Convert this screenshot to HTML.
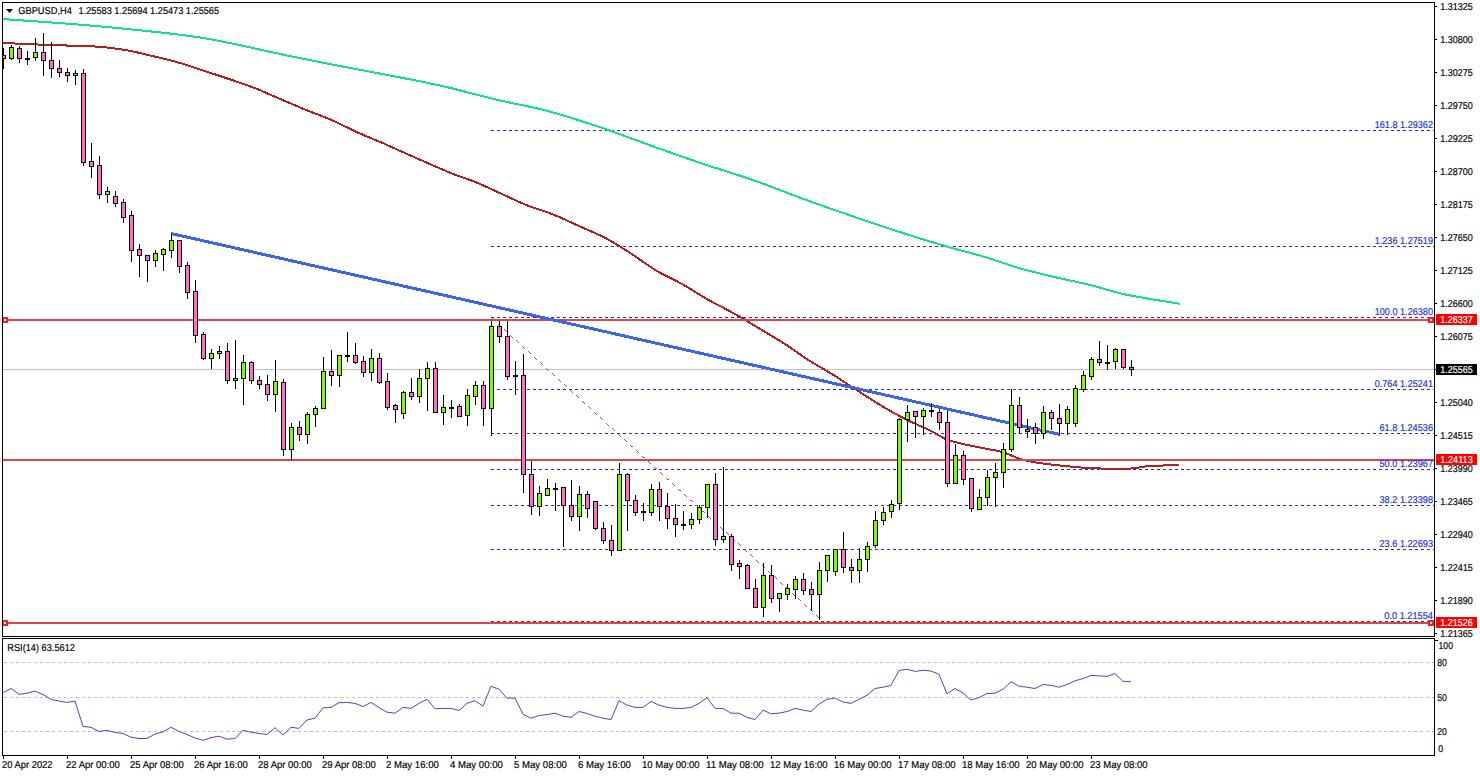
<!DOCTYPE html><html><head><meta charset="utf-8"><style>html,body{margin:0;padding:0;background:#fff;width:1480px;height:776px;overflow:hidden}svg{display:block}text{font-family:"Liberation Sans", sans-serif;font-size:10px;text-rendering:geometricPrecision;stroke:currentColor;stroke-width:0.18px}</style></head><body>
<svg width="1480" height="776" viewBox="0 0 1480 776">
<rect x="0" y="0" width="1480" height="776" fill="#fff"/>
<defs><clipPath id="main"><rect x="3" y="3" width="1431" height="633"/></clipPath><clipPath id="rsiw"><rect x="3" y="639" width="1431" height="116"/></clipPath></defs>
<g clip-path="url(#main)">
<rect x="3" y="369" width="1431" height="1" fill="#c0c0c0"/>
<line x1="491" y1="130.5" x2="1434" y2="130.5" stroke="#2b2bb8" stroke-width="1" stroke-dasharray="3 3"/>
<line x1="491" y1="246.5" x2="1434" y2="246.5" stroke="#2b2bb8" stroke-width="1" stroke-dasharray="3 3"/>
<line x1="491" y1="317.5" x2="1434" y2="317.5" stroke="#2b2bb8" stroke-width="1" stroke-dasharray="3 3"/>
<line x1="491" y1="389.5" x2="1434" y2="389.5" stroke="#2b2bb8" stroke-width="1" stroke-dasharray="3 3"/>
<line x1="491" y1="433.5" x2="1434" y2="433.5" stroke="#2b2bb8" stroke-width="1" stroke-dasharray="3 3"/>
<line x1="491" y1="469.5" x2="1434" y2="469.5" stroke="#2b2bb8" stroke-width="1" stroke-dasharray="3 3"/>
<line x1="491" y1="505.5" x2="1434" y2="505.5" stroke="#2b2bb8" stroke-width="1" stroke-dasharray="3 3"/>
<line x1="491" y1="549.5" x2="1434" y2="549.5" stroke="#2b2bb8" stroke-width="1" stroke-dasharray="3 3"/>
<line x1="491" y1="621.5" x2="1434" y2="621.5" stroke="#2b2bb8" stroke-width="1" stroke-dasharray="3 3"/>
<path d="M492,318h1v1h-1zM493,319h1v1h-1zM494,320h1v1h-1zM498,324h1v1h-1zM499,325h1v1h-1zM500,326h1v1h-1zM504,329h1v1h-1zM505,330h1v1h-1zM506,331h1v1h-1zM510,335h1v1h-1zM511,336h1v1h-1zM512,337h1v1h-1zM516,340h1v1h-1zM517,341h1v1h-1zM518,342h1v1h-1zM522,346h1v1h-1zM523,347h1v1h-1zM524,348h1v1h-1zM528,351h1v1h-1zM529,352h1v1h-1zM530,353h1v1h-1zM534,357h1v1h-1zM535,358h1v1h-1zM536,359h1v1h-1zM540,362h1v1h-1zM541,363h1v1h-1zM542,364h1v1h-1zM546,368h1v1h-1zM547,369h1v1h-1zM548,370h1v1h-1zM552,373h1v1h-1zM553,374h1v1h-1zM554,375h1v1h-1zM558,379h1v1h-1zM559,380h1v1h-1zM560,381h1v1h-1zM564,384h1v1h-1zM565,385h1v1h-1zM566,386h1v1h-1zM570,390h1v1h-1zM571,391h1v1h-1zM572,392h1v1h-1zM576,395h1v1h-1zM577,396h1v1h-1zM578,397h1v1h-1zM582,401h1v1h-1zM583,402h1v1h-1zM584,403h1v1h-1zM588,406h1v1h-1zM589,407h1v1h-1zM590,408h1v1h-1zM594,412h1v1h-1zM595,413h1v1h-1zM596,414h1v1h-1zM600,417h1v1h-1zM601,418h1v1h-1zM602,419h1v1h-1zM606,423h1v1h-1zM607,424h1v1h-1zM608,425h1v1h-1zM612,428h1v1h-1zM613,429h1v1h-1zM614,430h1v1h-1zM618,434h1v1h-1zM619,435h1v1h-1zM620,436h1v1h-1zM624,439h1v1h-1zM625,440h1v1h-1zM626,441h1v1h-1zM630,445h1v1h-1zM631,446h1v1h-1zM632,446h1v1h-1zM636,450h1v1h-1zM637,451h1v1h-1zM638,452h1v1h-1zM642,456h1v1h-1zM643,457h1v1h-1zM644,457h1v1h-1zM648,461h1v1h-1zM649,462h1v1h-1zM650,463h1v1h-1zM654,467h1v1h-1zM655,468h1v1h-1zM656,468h1v1h-1zM660,472h1v1h-1zM661,473h1v1h-1zM662,474h1v1h-1zM666,478h1v1h-1zM667,479h1v1h-1zM668,479h1v1h-1zM672,483h1v1h-1zM673,484h1v1h-1zM674,485h1v1h-1zM678,489h1v1h-1zM679,490h1v1h-1zM680,490h1v1h-1zM684,494h1v1h-1zM685,495h1v1h-1zM686,496h1v1h-1zM690,500h1v1h-1zM691,500h1v1h-1zM692,501h1v1h-1zM696,505h1v1h-1zM697,506h1v1h-1zM698,507h1v1h-1zM702,511h1v1h-1zM703,511h1v1h-1zM704,512h1v1h-1zM708,516h1v1h-1zM709,517h1v1h-1zM710,518h1v1h-1zM714,522h1v1h-1zM715,522h1v1h-1zM716,523h1v1h-1zM720,527h1v1h-1zM721,528h1v1h-1zM722,529h1v1h-1zM726,532h1v1h-1zM727,533h1v1h-1zM728,534h1v1h-1zM732,538h1v1h-1zM733,539h1v1h-1zM734,540h1v1h-1zM738,543h1v1h-1zM739,544h1v1h-1zM740,545h1v1h-1zM744,549h1v1h-1zM745,550h1v1h-1zM746,551h1v1h-1zM750,554h1v1h-1zM751,555h1v1h-1zM752,556h1v1h-1zM756,560h1v1h-1zM757,561h1v1h-1zM758,562h1v1h-1zM762,565h1v1h-1zM763,566h1v1h-1zM764,567h1v1h-1zM768,571h1v1h-1zM769,572h1v1h-1zM770,573h1v1h-1zM774,576h1v1h-1zM775,577h1v1h-1zM776,578h1v1h-1zM780,582h1v1h-1zM781,583h1v1h-1zM782,584h1v1h-1zM786,587h1v1h-1zM787,588h1v1h-1zM788,589h1v1h-1zM792,593h1v1h-1zM793,594h1v1h-1zM794,595h1v1h-1zM798,598h1v1h-1zM799,599h1v1h-1zM800,600h1v1h-1zM804,604h1v1h-1zM805,605h1v1h-1zM806,606h1v1h-1zM810,609h1v1h-1zM811,610h1v1h-1zM812,611h1v1h-1zM816,615h1v1h-1zM817,616h1v1h-1zM818,617h1v1h-1z" fill="#d04545" shape-rendering="crispEdges"/>
<path d="M2,19 C18.33,20.23 67.00,23.32 100,26.4 C133.00,29.48 170.00,32.90 200,37.5 C230.00,42.10 257.67,49.43 280,54 C302.33,58.57 316.00,61.38 334,64.9 C352.00,68.42 370.00,71.58 388,75.1 C406.00,78.62 424.00,81.93 442,86 C460.00,90.07 478.00,95.23 496,99.5 C514.00,103.77 532.00,106.75 550,111.6 C568.00,116.45 587.08,122.90 604,128.6 C620.92,134.30 635.00,139.93 651.5,145.8 C668.00,151.67 685.82,158.00 703,163.8 C720.18,169.60 737.43,174.58 754.6,180.6 C771.77,186.62 788.82,193.67 806,199.9 C823.18,206.13 845.37,213.73 857.7,218 C870.03,222.27 870.43,222.35 880,225.5 C889.57,228.65 903.38,233.23 915.1,236.9 C926.82,240.57 938.58,244.13 950.3,247.5 C962.02,250.87 973.68,253.60 985.4,257.1 C997.12,260.60 1008.88,265.13 1020.6,268.5 C1032.32,271.87 1043.98,274.52 1055.7,277.3 C1067.42,280.08 1079.18,282.32 1090.9,285.2 C1102.62,288.08 1111.20,291.50 1126,294.6 C1140.80,297.70 1170.75,302.27 1179.7,303.8" fill="none" stroke="#10e480" stroke-width="2" shape-rendering="crispEdges"/>
<path d="M2,42.9 C6.67,43.12 20.33,43.80 30,44.2 C39.67,44.60 48.33,44.87 60,45.3 C71.67,45.73 89.03,46.00 100,46.8 C110.97,47.60 117.22,48.60 125.8,50.1 C134.38,51.60 142.92,53.78 151.5,55.8 C160.08,57.82 168.70,59.75 177.3,62.2 C185.90,64.65 194.50,67.70 203.1,70.5 C211.70,73.30 220.32,76.08 228.9,79 C237.48,81.92 246.02,84.65 254.6,88 C263.18,91.35 271.80,95.43 280.4,99.1 C289.00,102.77 297.60,106.48 306.2,110 C314.80,113.52 323.42,116.45 332,120.2 C340.58,123.95 349.12,128.63 357.7,132.5 C366.28,136.37 374.90,139.65 383.5,143.4 C392.10,147.15 398.22,150.12 409.3,155 C420.38,159.88 438.92,168.17 450,172.7 C461.08,177.23 467.22,178.68 475.8,182.2 C484.38,185.72 492.92,189.93 501.5,193.8 C510.08,197.67 518.72,201.97 527.3,205.4 C535.88,208.83 544.40,210.97 553,214.4 C561.60,217.83 570.30,222.13 578.9,226 C587.50,229.87 596.02,233.08 604.6,237.6 C613.18,242.12 621.80,247.60 630.4,253.1 C639.00,258.60 647.60,265.45 656.2,270.6 C664.80,275.75 673.42,279.18 682,284 C690.58,288.82 699.12,294.63 707.7,299.5 C716.28,304.37 724.90,308.37 733.5,313.2 C742.10,318.03 750.72,323.37 759.3,328.5 C767.88,333.63 777.00,338.87 785,344 C793.00,349.13 799.30,354.18 807.3,359.3 C815.30,364.42 824.40,369.33 833,374.7 C841.60,380.07 850.30,386.00 858.9,391.5 C867.50,397.00 876.58,402.98 884.6,407.7 C892.62,412.42 899.27,415.92 907,419.8 C914.73,423.68 924.33,427.70 931,431 C937.67,434.30 941.83,437.47 947,439.6 C952.17,441.73 955.22,442.23 962,443.8 C968.78,445.37 980.87,447.60 987.7,449 C994.53,450.40 997.62,450.55 1003,452.2 C1008.38,453.85 1014.53,457.18 1020,458.9 C1025.47,460.62 1029.13,461.40 1035.8,462.5 C1042.47,463.60 1050.67,464.55 1060,465.5 C1069.33,466.45 1080.22,467.68 1091.8,468.2 C1103.38,468.72 1120.18,468.93 1129.5,468.6 C1138.82,468.27 1139.38,466.80 1147.7,466.2 C1156.02,465.60 1174.12,465.20 1179.4,465" fill="none" stroke="#b02020" stroke-width="2" shape-rendering="crispEdges"/>
<rect x="3" y="319" width="1431" height="2" fill="#dc4646"/>
<rect x="3" y="459" width="1431" height="2" fill="#dc4646"/>
<rect x="3" y="622" width="1431" height="2" fill="#dc4646"/>
<line x1="171" y1="233.5" x2="1060" y2="434.5" stroke="#3d64e6" stroke-width="3" shape-rendering="crispEdges"/>
<g shape-rendering="crispEdges">
<rect x="3" y="48" width="1" height="21" fill="#000"/>
<rect x="1" y="55" width="5" height="4" fill="#000"/>
<rect x="2" y="56" width="3" height="2" fill="#ff6ec4"/>
<rect x="11" y="45" width="1" height="15" fill="#000"/>
<rect x="9" y="47" width="5" height="12" fill="#000"/>
<rect x="10" y="48" width="3" height="10" fill="#7cfc00"/>
<rect x="19" y="46" width="1" height="17" fill="#000"/>
<rect x="17" y="48" width="5" height="11" fill="#000"/>
<rect x="18" y="49" width="3" height="9" fill="#ff6ec4"/>
<rect x="27" y="51" width="1" height="14" fill="#000"/>
<rect x="25" y="58" width="5" height="2" fill="#000"/>
<rect x="35" y="38" width="1" height="23" fill="#000"/>
<rect x="33" y="52" width="5" height="6" fill="#000"/>
<rect x="34" y="53" width="3" height="4" fill="#7cfc00"/>
<rect x="43" y="33" width="1" height="43" fill="#000"/>
<rect x="41" y="52" width="5" height="9" fill="#000"/>
<rect x="42" y="53" width="3" height="7" fill="#ff6ec4"/>
<rect x="51" y="42" width="1" height="36" fill="#000"/>
<rect x="49" y="60" width="5" height="9" fill="#000"/>
<rect x="50" y="61" width="3" height="7" fill="#ff6ec4"/>
<rect x="59" y="60" width="1" height="17" fill="#000"/>
<rect x="57" y="68" width="5" height="5" fill="#000"/>
<rect x="58" y="69" width="3" height="3" fill="#ff6ec4"/>
<rect x="67" y="68" width="1" height="14" fill="#000"/>
<rect x="65" y="72" width="5" height="4" fill="#000"/>
<rect x="66" y="73" width="3" height="2" fill="#ff6ec4"/>
<rect x="75" y="70" width="1" height="15" fill="#000"/>
<rect x="73" y="73" width="5" height="3" fill="#000"/>
<rect x="74" y="74" width="3" height="1" fill="#7cfc00"/>
<rect x="83" y="69" width="1" height="97" fill="#000"/>
<rect x="81" y="73" width="5" height="90" fill="#000"/>
<rect x="82" y="74" width="3" height="88" fill="#ff6ec4"/>
<rect x="91" y="143" width="1" height="35" fill="#000"/>
<rect x="89" y="161" width="5" height="6" fill="#000"/>
<rect x="90" y="162" width="3" height="4" fill="#ff6ec4"/>
<rect x="99" y="156" width="1" height="43" fill="#000"/>
<rect x="97" y="165" width="5" height="30" fill="#000"/>
<rect x="98" y="166" width="3" height="28" fill="#ff6ec4"/>
<rect x="107" y="187" width="1" height="16" fill="#000"/>
<rect x="105" y="191" width="5" height="4" fill="#000"/>
<rect x="106" y="192" width="3" height="2" fill="#7cfc00"/>
<rect x="115" y="191" width="1" height="16" fill="#000"/>
<rect x="113" y="196" width="5" height="8" fill="#000"/>
<rect x="114" y="197" width="3" height="6" fill="#ff6ec4"/>
<rect x="123" y="199" width="1" height="24" fill="#000"/>
<rect x="121" y="202" width="5" height="16" fill="#000"/>
<rect x="122" y="203" width="3" height="14" fill="#ff6ec4"/>
<rect x="131" y="211" width="1" height="51" fill="#000"/>
<rect x="129" y="215" width="5" height="36" fill="#000"/>
<rect x="130" y="216" width="3" height="34" fill="#ff6ec4"/>
<rect x="139" y="244" width="1" height="33" fill="#000"/>
<rect x="137" y="249" width="5" height="7" fill="#000"/>
<rect x="138" y="250" width="3" height="5" fill="#ff6ec4"/>
<rect x="147" y="255" width="1" height="27" fill="#000"/>
<rect x="145" y="255" width="5" height="6" fill="#000"/>
<rect x="146" y="256" width="3" height="4" fill="#ff6ec4"/>
<rect x="155" y="250" width="1" height="17" fill="#000"/>
<rect x="153" y="253" width="5" height="8" fill="#000"/>
<rect x="154" y="254" width="3" height="6" fill="#7cfc00"/>
<rect x="163" y="248" width="1" height="23" fill="#000"/>
<rect x="161" y="249" width="5" height="6" fill="#000"/>
<rect x="162" y="250" width="3" height="4" fill="#7cfc00"/>
<rect x="171" y="234" width="1" height="24" fill="#000"/>
<rect x="169" y="240" width="5" height="11" fill="#000"/>
<rect x="170" y="241" width="3" height="9" fill="#7cfc00"/>
<rect x="179" y="240" width="1" height="33" fill="#000"/>
<rect x="177" y="240" width="5" height="27" fill="#000"/>
<rect x="178" y="241" width="3" height="25" fill="#ff6ec4"/>
<rect x="187" y="262" width="1" height="37" fill="#000"/>
<rect x="185" y="265" width="5" height="28" fill="#000"/>
<rect x="186" y="266" width="3" height="26" fill="#ff6ec4"/>
<rect x="195" y="280" width="1" height="63" fill="#000"/>
<rect x="193" y="291" width="5" height="45" fill="#000"/>
<rect x="194" y="292" width="3" height="43" fill="#ff6ec4"/>
<rect x="203" y="332" width="1" height="28" fill="#000"/>
<rect x="201" y="334" width="5" height="25" fill="#000"/>
<rect x="202" y="335" width="3" height="23" fill="#ff6ec4"/>
<rect x="211" y="349" width="1" height="20" fill="#000"/>
<rect x="209" y="353" width="5" height="6" fill="#000"/>
<rect x="210" y="354" width="3" height="4" fill="#7cfc00"/>
<rect x="219" y="346" width="1" height="13" fill="#000"/>
<rect x="217" y="351" width="5" height="3" fill="#000"/>
<rect x="218" y="352" width="3" height="1" fill="#7cfc00"/>
<rect x="227" y="343" width="1" height="41" fill="#000"/>
<rect x="225" y="351" width="5" height="30" fill="#000"/>
<rect x="226" y="352" width="3" height="28" fill="#ff6ec4"/>
<rect x="235" y="340" width="1" height="49" fill="#000"/>
<rect x="233" y="378" width="5" height="3" fill="#000"/>
<rect x="234" y="379" width="3" height="1" fill="#7cfc00"/>
<rect x="243" y="355" width="1" height="50" fill="#000"/>
<rect x="241" y="362" width="5" height="17" fill="#000"/>
<rect x="242" y="363" width="3" height="15" fill="#7cfc00"/>
<rect x="251" y="361" width="1" height="23" fill="#000"/>
<rect x="249" y="362" width="5" height="19" fill="#000"/>
<rect x="250" y="363" width="3" height="17" fill="#ff6ec4"/>
<rect x="259" y="376" width="1" height="13" fill="#000"/>
<rect x="257" y="380" width="5" height="5" fill="#000"/>
<rect x="258" y="381" width="3" height="3" fill="#ff6ec4"/>
<rect x="267" y="375" width="1" height="26" fill="#000"/>
<rect x="265" y="384" width="5" height="11" fill="#000"/>
<rect x="266" y="385" width="3" height="9" fill="#ff6ec4"/>
<rect x="275" y="360" width="1" height="52" fill="#000"/>
<rect x="273" y="381" width="5" height="14" fill="#000"/>
<rect x="274" y="382" width="3" height="12" fill="#7cfc00"/>
<rect x="283" y="379" width="1" height="77" fill="#000"/>
<rect x="281" y="382" width="5" height="68" fill="#000"/>
<rect x="282" y="383" width="3" height="66" fill="#ff6ec4"/>
<rect x="291" y="423" width="1" height="37" fill="#000"/>
<rect x="289" y="427" width="5" height="23" fill="#000"/>
<rect x="290" y="428" width="3" height="21" fill="#7cfc00"/>
<rect x="299" y="421" width="1" height="20" fill="#000"/>
<rect x="297" y="427" width="5" height="8" fill="#000"/>
<rect x="298" y="428" width="3" height="6" fill="#ff6ec4"/>
<rect x="307" y="412" width="1" height="32" fill="#000"/>
<rect x="305" y="414" width="5" height="21" fill="#000"/>
<rect x="306" y="415" width="3" height="19" fill="#7cfc00"/>
<rect x="315" y="406" width="1" height="21" fill="#000"/>
<rect x="313" y="408" width="5" height="7" fill="#000"/>
<rect x="314" y="409" width="3" height="5" fill="#7cfc00"/>
<rect x="323" y="357" width="1" height="52" fill="#000"/>
<rect x="321" y="371" width="5" height="38" fill="#000"/>
<rect x="322" y="372" width="3" height="36" fill="#7cfc00"/>
<rect x="331" y="350" width="1" height="36" fill="#000"/>
<rect x="329" y="371" width="5" height="5" fill="#000"/>
<rect x="330" y="372" width="3" height="3" fill="#ff6ec4"/>
<rect x="339" y="355" width="1" height="32" fill="#000"/>
<rect x="337" y="355" width="5" height="21" fill="#000"/>
<rect x="338" y="356" width="3" height="19" fill="#7cfc00"/>
<rect x="347" y="332" width="1" height="30" fill="#000"/>
<rect x="345" y="355" width="5" height="2" fill="#000"/>
<rect x="355" y="343" width="1" height="21" fill="#000"/>
<rect x="353" y="355" width="5" height="8" fill="#000"/>
<rect x="354" y="356" width="3" height="6" fill="#ff6ec4"/>
<rect x="363" y="356" width="1" height="21" fill="#000"/>
<rect x="361" y="361" width="5" height="12" fill="#000"/>
<rect x="362" y="362" width="3" height="10" fill="#ff6ec4"/>
<rect x="371" y="349" width="1" height="32" fill="#000"/>
<rect x="369" y="358" width="5" height="15" fill="#000"/>
<rect x="370" y="359" width="3" height="13" fill="#7cfc00"/>
<rect x="379" y="353" width="1" height="31" fill="#000"/>
<rect x="377" y="358" width="5" height="25" fill="#000"/>
<rect x="378" y="359" width="3" height="23" fill="#ff6ec4"/>
<rect x="387" y="373" width="1" height="37" fill="#000"/>
<rect x="385" y="381" width="5" height="27" fill="#000"/>
<rect x="386" y="382" width="3" height="25" fill="#ff6ec4"/>
<rect x="395" y="404" width="1" height="19" fill="#000"/>
<rect x="393" y="405" width="5" height="5" fill="#000"/>
<rect x="394" y="406" width="3" height="3" fill="#ff6ec4"/>
<rect x="403" y="391" width="1" height="28" fill="#000"/>
<rect x="401" y="392" width="5" height="22" fill="#000"/>
<rect x="402" y="393" width="3" height="20" fill="#7cfc00"/>
<rect x="411" y="378" width="1" height="22" fill="#000"/>
<rect x="409" y="392" width="5" height="5" fill="#000"/>
<rect x="410" y="393" width="3" height="3" fill="#ff6ec4"/>
<rect x="419" y="369" width="1" height="34" fill="#000"/>
<rect x="417" y="378" width="5" height="19" fill="#000"/>
<rect x="418" y="379" width="3" height="17" fill="#7cfc00"/>
<rect x="427" y="362" width="1" height="49" fill="#000"/>
<rect x="425" y="368" width="5" height="11" fill="#000"/>
<rect x="426" y="369" width="3" height="9" fill="#7cfc00"/>
<rect x="435" y="362" width="1" height="51" fill="#000"/>
<rect x="433" y="368" width="5" height="45" fill="#000"/>
<rect x="434" y="369" width="3" height="43" fill="#ff6ec4"/>
<rect x="443" y="395" width="1" height="30" fill="#000"/>
<rect x="441" y="407" width="5" height="6" fill="#000"/>
<rect x="442" y="408" width="3" height="4" fill="#7cfc00"/>
<rect x="451" y="400" width="1" height="18" fill="#000"/>
<rect x="449" y="407" width="5" height="2" fill="#000"/>
<rect x="459" y="404" width="1" height="13" fill="#000"/>
<rect x="457" y="406" width="5" height="11" fill="#000"/>
<rect x="458" y="407" width="3" height="9" fill="#ff6ec4"/>
<rect x="467" y="389" width="1" height="37" fill="#000"/>
<rect x="465" y="395" width="5" height="21" fill="#000"/>
<rect x="466" y="396" width="3" height="19" fill="#7cfc00"/>
<rect x="475" y="381" width="1" height="24" fill="#000"/>
<rect x="473" y="385" width="5" height="12" fill="#000"/>
<rect x="474" y="386" width="3" height="10" fill="#7cfc00"/>
<rect x="483" y="381" width="1" height="45" fill="#000"/>
<rect x="481" y="385" width="5" height="24" fill="#000"/>
<rect x="482" y="386" width="3" height="22" fill="#ff6ec4"/>
<rect x="491" y="321" width="1" height="115" fill="#000"/>
<rect x="489" y="326" width="5" height="83" fill="#000"/>
<rect x="490" y="327" width="3" height="81" fill="#7cfc00"/>
<rect x="499" y="321" width="1" height="22" fill="#000"/>
<rect x="497" y="326" width="5" height="11" fill="#000"/>
<rect x="498" y="327" width="3" height="9" fill="#ff6ec4"/>
<rect x="507" y="321" width="1" height="59" fill="#000"/>
<rect x="505" y="336" width="5" height="41" fill="#000"/>
<rect x="506" y="337" width="3" height="39" fill="#ff6ec4"/>
<rect x="515" y="361" width="1" height="34" fill="#000"/>
<rect x="513" y="375" width="5" height="2" fill="#000"/>
<rect x="523" y="354" width="1" height="139" fill="#000"/>
<rect x="521" y="375" width="5" height="100" fill="#000"/>
<rect x="522" y="376" width="3" height="98" fill="#ff6ec4"/>
<rect x="531" y="461" width="1" height="54" fill="#000"/>
<rect x="529" y="474" width="5" height="33" fill="#000"/>
<rect x="530" y="475" width="3" height="31" fill="#ff6ec4"/>
<rect x="539" y="486" width="1" height="30" fill="#000"/>
<rect x="537" y="493" width="5" height="14" fill="#000"/>
<rect x="538" y="494" width="3" height="12" fill="#7cfc00"/>
<rect x="547" y="479" width="1" height="17" fill="#000"/>
<rect x="545" y="488" width="5" height="8" fill="#000"/>
<rect x="546" y="489" width="3" height="6" fill="#7cfc00"/>
<rect x="555" y="483" width="1" height="28" fill="#000"/>
<rect x="553" y="488" width="5" height="2" fill="#000"/>
<rect x="563" y="487" width="1" height="60" fill="#000"/>
<rect x="561" y="487" width="5" height="19" fill="#000"/>
<rect x="562" y="488" width="3" height="17" fill="#ff6ec4"/>
<rect x="571" y="480" width="1" height="41" fill="#000"/>
<rect x="569" y="505" width="5" height="12" fill="#000"/>
<rect x="570" y="506" width="3" height="10" fill="#ff6ec4"/>
<rect x="579" y="486" width="1" height="45" fill="#000"/>
<rect x="577" y="494" width="5" height="23" fill="#000"/>
<rect x="578" y="495" width="3" height="21" fill="#7cfc00"/>
<rect x="587" y="491" width="1" height="27" fill="#000"/>
<rect x="585" y="494" width="5" height="15" fill="#000"/>
<rect x="586" y="495" width="3" height="13" fill="#ff6ec4"/>
<rect x="595" y="501" width="1" height="29" fill="#000"/>
<rect x="593" y="501" width="5" height="28" fill="#000"/>
<rect x="594" y="502" width="3" height="26" fill="#ff6ec4"/>
<rect x="603" y="522" width="1" height="22" fill="#000"/>
<rect x="601" y="528" width="5" height="13" fill="#000"/>
<rect x="602" y="529" width="3" height="11" fill="#ff6ec4"/>
<rect x="611" y="525" width="1" height="31" fill="#000"/>
<rect x="609" y="540" width="5" height="11" fill="#000"/>
<rect x="610" y="541" width="3" height="9" fill="#ff6ec4"/>
<rect x="619" y="463" width="1" height="88" fill="#000"/>
<rect x="617" y="474" width="5" height="77" fill="#000"/>
<rect x="618" y="475" width="3" height="75" fill="#7cfc00"/>
<rect x="627" y="473" width="1" height="58" fill="#000"/>
<rect x="625" y="474" width="5" height="27" fill="#000"/>
<rect x="626" y="475" width="3" height="25" fill="#ff6ec4"/>
<rect x="635" y="495" width="1" height="21" fill="#000"/>
<rect x="633" y="500" width="5" height="13" fill="#000"/>
<rect x="634" y="501" width="3" height="11" fill="#ff6ec4"/>
<rect x="643" y="503" width="1" height="18" fill="#000"/>
<rect x="641" y="511" width="5" height="2" fill="#000"/>
<rect x="651" y="484" width="1" height="32" fill="#000"/>
<rect x="649" y="489" width="5" height="24" fill="#000"/>
<rect x="650" y="490" width="3" height="22" fill="#7cfc00"/>
<rect x="659" y="482" width="1" height="39" fill="#000"/>
<rect x="657" y="489" width="5" height="18" fill="#000"/>
<rect x="658" y="490" width="3" height="16" fill="#ff6ec4"/>
<rect x="667" y="493" width="1" height="36" fill="#000"/>
<rect x="665" y="506" width="5" height="13" fill="#000"/>
<rect x="666" y="507" width="3" height="11" fill="#ff6ec4"/>
<rect x="675" y="504" width="1" height="33" fill="#000"/>
<rect x="673" y="518" width="5" height="7" fill="#000"/>
<rect x="674" y="519" width="3" height="5" fill="#ff6ec4"/>
<rect x="683" y="511" width="1" height="19" fill="#000"/>
<rect x="681" y="524" width="5" height="2" fill="#000"/>
<rect x="691" y="513" width="1" height="16" fill="#000"/>
<rect x="689" y="519" width="5" height="6" fill="#000"/>
<rect x="690" y="520" width="3" height="4" fill="#7cfc00"/>
<rect x="699" y="505" width="1" height="19" fill="#000"/>
<rect x="697" y="507" width="5" height="13" fill="#000"/>
<rect x="698" y="508" width="3" height="11" fill="#7cfc00"/>
<rect x="707" y="484" width="1" height="34" fill="#000"/>
<rect x="705" y="484" width="5" height="24" fill="#000"/>
<rect x="706" y="485" width="3" height="22" fill="#7cfc00"/>
<rect x="715" y="473" width="1" height="73" fill="#000"/>
<rect x="713" y="484" width="5" height="56" fill="#000"/>
<rect x="714" y="485" width="3" height="54" fill="#ff6ec4"/>
<rect x="723" y="467" width="1" height="76" fill="#000"/>
<rect x="721" y="536" width="5" height="4" fill="#000"/>
<rect x="722" y="537" width="3" height="2" fill="#7cfc00"/>
<rect x="731" y="534" width="1" height="37" fill="#000"/>
<rect x="729" y="536" width="5" height="29" fill="#000"/>
<rect x="730" y="537" width="3" height="27" fill="#ff6ec4"/>
<rect x="739" y="560" width="1" height="19" fill="#000"/>
<rect x="737" y="563" width="5" height="4" fill="#000"/>
<rect x="738" y="564" width="3" height="2" fill="#ff6ec4"/>
<rect x="747" y="564" width="1" height="25" fill="#000"/>
<rect x="745" y="565" width="5" height="24" fill="#000"/>
<rect x="746" y="566" width="3" height="22" fill="#ff6ec4"/>
<rect x="755" y="579" width="1" height="29" fill="#000"/>
<rect x="753" y="588" width="5" height="20" fill="#000"/>
<rect x="754" y="589" width="3" height="18" fill="#ff6ec4"/>
<rect x="763" y="563" width="1" height="54" fill="#000"/>
<rect x="761" y="575" width="5" height="33" fill="#000"/>
<rect x="762" y="576" width="3" height="31" fill="#7cfc00"/>
<rect x="771" y="565" width="1" height="38" fill="#000"/>
<rect x="769" y="575" width="5" height="24" fill="#000"/>
<rect x="770" y="576" width="3" height="22" fill="#ff6ec4"/>
<rect x="779" y="593" width="1" height="19" fill="#000"/>
<rect x="777" y="593" width="5" height="6" fill="#000"/>
<rect x="778" y="594" width="3" height="4" fill="#7cfc00"/>
<rect x="787" y="584" width="1" height="16" fill="#000"/>
<rect x="785" y="588" width="5" height="7" fill="#000"/>
<rect x="786" y="589" width="3" height="5" fill="#7cfc00"/>
<rect x="795" y="576" width="1" height="23" fill="#000"/>
<rect x="793" y="579" width="5" height="11" fill="#000"/>
<rect x="794" y="580" width="3" height="9" fill="#7cfc00"/>
<rect x="803" y="573" width="1" height="22" fill="#000"/>
<rect x="801" y="579" width="5" height="12" fill="#000"/>
<rect x="802" y="580" width="3" height="10" fill="#ff6ec4"/>
<rect x="811" y="582" width="1" height="29" fill="#000"/>
<rect x="809" y="589" width="5" height="6" fill="#000"/>
<rect x="810" y="590" width="3" height="4" fill="#ff6ec4"/>
<rect x="819" y="562" width="1" height="58" fill="#000"/>
<rect x="817" y="570" width="5" height="25" fill="#000"/>
<rect x="818" y="571" width="3" height="23" fill="#7cfc00"/>
<rect x="827" y="555" width="1" height="27" fill="#000"/>
<rect x="825" y="555" width="5" height="16" fill="#000"/>
<rect x="826" y="556" width="3" height="14" fill="#7cfc00"/>
<rect x="835" y="549" width="1" height="27" fill="#000"/>
<rect x="833" y="549" width="5" height="23" fill="#000"/>
<rect x="834" y="550" width="3" height="21" fill="#7cfc00"/>
<rect x="843" y="532" width="1" height="41" fill="#000"/>
<rect x="841" y="549" width="5" height="19" fill="#000"/>
<rect x="842" y="550" width="3" height="17" fill="#ff6ec4"/>
<rect x="851" y="559" width="1" height="24" fill="#000"/>
<rect x="849" y="567" width="5" height="4" fill="#000"/>
<rect x="850" y="568" width="3" height="2" fill="#ff6ec4"/>
<rect x="859" y="548" width="1" height="35" fill="#000"/>
<rect x="857" y="559" width="5" height="12" fill="#000"/>
<rect x="858" y="560" width="3" height="10" fill="#7cfc00"/>
<rect x="867" y="542" width="1" height="30" fill="#000"/>
<rect x="865" y="546" width="5" height="14" fill="#000"/>
<rect x="866" y="547" width="3" height="12" fill="#7cfc00"/>
<rect x="875" y="511" width="1" height="37" fill="#000"/>
<rect x="873" y="520" width="5" height="26" fill="#000"/>
<rect x="874" y="521" width="3" height="24" fill="#7cfc00"/>
<rect x="883" y="507" width="1" height="18" fill="#000"/>
<rect x="881" y="512" width="5" height="9" fill="#000"/>
<rect x="882" y="513" width="3" height="7" fill="#7cfc00"/>
<rect x="891" y="500" width="1" height="18" fill="#000"/>
<rect x="889" y="504" width="5" height="8" fill="#000"/>
<rect x="890" y="505" width="3" height="6" fill="#7cfc00"/>
<rect x="899" y="418" width="1" height="92" fill="#000"/>
<rect x="897" y="419" width="5" height="85" fill="#000"/>
<rect x="898" y="420" width="3" height="83" fill="#7cfc00"/>
<rect x="907" y="405" width="1" height="37" fill="#000"/>
<rect x="905" y="412" width="5" height="8" fill="#000"/>
<rect x="906" y="413" width="3" height="6" fill="#7cfc00"/>
<rect x="915" y="411" width="1" height="27" fill="#000"/>
<rect x="913" y="411" width="5" height="6" fill="#000"/>
<rect x="914" y="412" width="3" height="4" fill="#ff6ec4"/>
<rect x="923" y="408" width="1" height="27" fill="#000"/>
<rect x="921" y="410" width="5" height="7" fill="#000"/>
<rect x="922" y="411" width="3" height="5" fill="#7cfc00"/>
<rect x="931" y="403" width="1" height="14" fill="#000"/>
<rect x="929" y="410" width="5" height="2" fill="#000"/>
<rect x="939" y="409" width="1" height="21" fill="#000"/>
<rect x="937" y="412" width="5" height="11" fill="#000"/>
<rect x="938" y="413" width="3" height="9" fill="#ff6ec4"/>
<rect x="947" y="411" width="1" height="76" fill="#000"/>
<rect x="945" y="422" width="5" height="62" fill="#000"/>
<rect x="946" y="423" width="3" height="60" fill="#ff6ec4"/>
<rect x="955" y="444" width="1" height="40" fill="#000"/>
<rect x="953" y="455" width="5" height="29" fill="#000"/>
<rect x="954" y="456" width="3" height="27" fill="#7cfc00"/>
<rect x="963" y="451" width="1" height="34" fill="#000"/>
<rect x="961" y="455" width="5" height="25" fill="#000"/>
<rect x="962" y="456" width="3" height="23" fill="#ff6ec4"/>
<rect x="971" y="478" width="1" height="34" fill="#000"/>
<rect x="969" y="478" width="5" height="31" fill="#000"/>
<rect x="970" y="479" width="3" height="29" fill="#ff6ec4"/>
<rect x="979" y="489" width="1" height="21" fill="#000"/>
<rect x="977" y="497" width="5" height="13" fill="#000"/>
<rect x="978" y="498" width="3" height="11" fill="#7cfc00"/>
<rect x="987" y="470" width="1" height="36" fill="#000"/>
<rect x="985" y="477" width="5" height="21" fill="#000"/>
<rect x="986" y="478" width="3" height="19" fill="#7cfc00"/>
<rect x="995" y="463" width="1" height="44" fill="#000"/>
<rect x="993" y="472" width="5" height="6" fill="#000"/>
<rect x="994" y="473" width="3" height="4" fill="#7cfc00"/>
<rect x="1003" y="443" width="1" height="45" fill="#000"/>
<rect x="1001" y="449" width="5" height="24" fill="#000"/>
<rect x="1002" y="450" width="3" height="22" fill="#7cfc00"/>
<rect x="1011" y="389" width="1" height="63" fill="#000"/>
<rect x="1009" y="405" width="5" height="45" fill="#000"/>
<rect x="1010" y="406" width="3" height="43" fill="#7cfc00"/>
<rect x="1019" y="397" width="1" height="37" fill="#000"/>
<rect x="1017" y="405" width="5" height="23" fill="#000"/>
<rect x="1018" y="406" width="3" height="21" fill="#ff6ec4"/>
<rect x="1027" y="419" width="1" height="19" fill="#000"/>
<rect x="1025" y="429" width="5" height="3" fill="#000"/>
<rect x="1026" y="430" width="3" height="1" fill="#ff6ec4"/>
<rect x="1035" y="423" width="1" height="21" fill="#000"/>
<rect x="1033" y="427" width="5" height="7" fill="#000"/>
<rect x="1034" y="428" width="3" height="5" fill="#ff6ec4"/>
<rect x="1043" y="406" width="1" height="33" fill="#000"/>
<rect x="1041" y="412" width="5" height="22" fill="#000"/>
<rect x="1042" y="413" width="3" height="20" fill="#7cfc00"/>
<rect x="1051" y="410" width="1" height="20" fill="#000"/>
<rect x="1049" y="412" width="5" height="7" fill="#000"/>
<rect x="1050" y="413" width="3" height="5" fill="#ff6ec4"/>
<rect x="1059" y="404" width="1" height="31" fill="#000"/>
<rect x="1057" y="418" width="5" height="6" fill="#000"/>
<rect x="1058" y="419" width="3" height="4" fill="#ff6ec4"/>
<rect x="1067" y="406" width="1" height="29" fill="#000"/>
<rect x="1065" y="409" width="5" height="15" fill="#000"/>
<rect x="1066" y="410" width="3" height="13" fill="#7cfc00"/>
<rect x="1075" y="385" width="1" height="42" fill="#000"/>
<rect x="1073" y="388" width="5" height="36" fill="#000"/>
<rect x="1074" y="389" width="3" height="34" fill="#7cfc00"/>
<rect x="1083" y="371" width="1" height="21" fill="#000"/>
<rect x="1081" y="375" width="5" height="15" fill="#000"/>
<rect x="1082" y="376" width="3" height="13" fill="#7cfc00"/>
<rect x="1091" y="357" width="1" height="23" fill="#000"/>
<rect x="1089" y="359" width="5" height="18" fill="#000"/>
<rect x="1090" y="360" width="3" height="16" fill="#7cfc00"/>
<rect x="1099" y="341" width="1" height="25" fill="#000"/>
<rect x="1097" y="359" width="5" height="4" fill="#000"/>
<rect x="1098" y="360" width="3" height="2" fill="#ff6ec4"/>
<rect x="1107" y="345" width="1" height="25" fill="#000"/>
<rect x="1105" y="362" width="5" height="2" fill="#000"/>
<rect x="1115" y="348" width="1" height="21" fill="#000"/>
<rect x="1113" y="349" width="5" height="13" fill="#000"/>
<rect x="1114" y="350" width="3" height="11" fill="#7cfc00"/>
<rect x="1123" y="349" width="1" height="20" fill="#000"/>
<rect x="1121" y="349" width="5" height="19" fill="#000"/>
<rect x="1122" y="350" width="3" height="17" fill="#ff6ec4"/>
<rect x="1131" y="360" width="1" height="16" fill="#000"/>
<rect x="1129" y="367" width="5" height="3" fill="#000"/>
<rect x="1130" y="368" width="3" height="1" fill="#ff6ec4"/>
</g>
<text x="1374.7" y="128.0" fill="#1f2fd6" color="#1f2fd6" textLength="58.3" lengthAdjust="spacingAndGlyphs">161.8 1.29362</text>
<text x="1374.7" y="244.0" fill="#1f2fd6" color="#1f2fd6" textLength="58.3" lengthAdjust="spacingAndGlyphs">1.236 1.27519</text>
<text x="1374.7" y="315.0" fill="#1f2fd6" color="#1f2fd6" textLength="58.3" lengthAdjust="spacingAndGlyphs">100.0 1.26380</text>
<text x="1374.7" y="387.0" fill="#1f2fd6" color="#1f2fd6" textLength="58.3" lengthAdjust="spacingAndGlyphs">0.764 1.25241</text>
<text x="1379.5" y="431.0" fill="#1f2fd6" color="#1f2fd6" textLength="53.5" lengthAdjust="spacingAndGlyphs">61.8 1.24536</text>
<text x="1379.5" y="467.0" fill="#1f2fd6" color="#1f2fd6" textLength="53.5" lengthAdjust="spacingAndGlyphs">50.0 1.23967</text>
<text x="1379.5" y="503.0" fill="#1f2fd6" color="#1f2fd6" textLength="53.5" lengthAdjust="spacingAndGlyphs">38.2 1.23398</text>
<text x="1379.5" y="547.0" fill="#1f2fd6" color="#1f2fd6" textLength="53.5" lengthAdjust="spacingAndGlyphs">23.6 1.22693</text>
<text x="1384.3" y="619.0" fill="#1f2fd6" color="#1f2fd6" textLength="48.699999999999996" lengthAdjust="spacingAndGlyphs">0.0 1.21554</text>
</g>
<g shape-rendering="crispEdges">
<rect x="2" y="317" width="6" height="6" fill="#ff1a1a"/>
<rect x="4" y="319" width="2" height="2" fill="#fff"/>
<rect x="1428" y="317" width="6" height="6" fill="#ff1a1a"/>
<rect x="1430" y="319" width="2" height="2" fill="#fff"/>
<rect x="2" y="620" width="6" height="6" fill="#ff1a1a"/>
<rect x="4" y="622" width="2" height="2" fill="#fff"/>
<rect x="1428" y="620" width="6" height="6" fill="#ff1a1a"/>
<rect x="1430" y="622" width="2" height="2" fill="#fff"/>
</g>
<polygon points="6,9 13,9 9.5,13" fill="#000"/>
<text x="18.3" y="13.5" fill="#000" color="#000" textLength="53.5" lengthAdjust="spacingAndGlyphs">GBPUSD,H4</text>
<text x="78.6" y="13.5" fill="#000" color="#000" textLength="140.5" lengthAdjust="spacingAndGlyphs">1.25583 1.25694 1.25473 1.25565</text>
<g shape-rendering="crispEdges">
<rect x="2" y="2" width="1433" height="1" fill="#000"/>
<rect x="2" y="2" width="1" height="635" fill="#000"/>
<rect x="1434" y="2" width="1" height="635" fill="#000"/>
<rect x="2" y="636" width="1433" height="1" fill="#000"/>
<rect x="2" y="638" width="1433" height="1" fill="#000"/>
<rect x="2" y="638" width="1" height="118" fill="#000"/>
<rect x="1434" y="638" width="1" height="118" fill="#000"/>
<rect x="2" y="755" width="1433" height="1" fill="#000"/>
</g>
<g shape-rendering="crispEdges">
<rect x="1435" y="6" width="2" height="1" fill="#000"/>
<rect x="1435" y="39" width="2" height="1" fill="#000"/>
<rect x="1435" y="72" width="2" height="1" fill="#000"/>
<rect x="1435" y="105" width="2" height="1" fill="#000"/>
<rect x="1435" y="138" width="2" height="1" fill="#000"/>
<rect x="1435" y="171" width="2" height="1" fill="#000"/>
<rect x="1435" y="204" width="2" height="1" fill="#000"/>
<rect x="1435" y="237" width="2" height="1" fill="#000"/>
<rect x="1435" y="270" width="2" height="1" fill="#000"/>
<rect x="1435" y="303" width="2" height="1" fill="#000"/>
<rect x="1435" y="336" width="2" height="1" fill="#000"/>
<rect x="1435" y="369" width="2" height="1" fill="#000"/>
<rect x="1435" y="402" width="2" height="1" fill="#000"/>
<rect x="1435" y="435" width="2" height="1" fill="#000"/>
<rect x="1435" y="468" width="2" height="1" fill="#000"/>
<rect x="1435" y="501" width="2" height="1" fill="#000"/>
<rect x="1435" y="534" width="2" height="1" fill="#000"/>
<rect x="1435" y="567" width="2" height="1" fill="#000"/>
<rect x="1435" y="600" width="2" height="1" fill="#000"/>
<rect x="1435" y="633" width="2" height="1" fill="#000"/>
</g>
<text x="1440.3" y="10.4" fill="#000" color="#000" textLength="32.5" lengthAdjust="spacingAndGlyphs">1.31325</text>
<text x="1440.3" y="43.4" fill="#000" color="#000" textLength="32.5" lengthAdjust="spacingAndGlyphs">1.30800</text>
<text x="1440.3" y="76.4" fill="#000" color="#000" textLength="32.5" lengthAdjust="spacingAndGlyphs">1.30275</text>
<text x="1440.3" y="109.4" fill="#000" color="#000" textLength="32.5" lengthAdjust="spacingAndGlyphs">1.29750</text>
<text x="1440.3" y="142.4" fill="#000" color="#000" textLength="32.5" lengthAdjust="spacingAndGlyphs">1.29225</text>
<text x="1440.3" y="175.4" fill="#000" color="#000" textLength="32.5" lengthAdjust="spacingAndGlyphs">1.28700</text>
<text x="1440.3" y="208.4" fill="#000" color="#000" textLength="32.5" lengthAdjust="spacingAndGlyphs">1.28175</text>
<text x="1440.3" y="241.4" fill="#000" color="#000" textLength="32.5" lengthAdjust="spacingAndGlyphs">1.27650</text>
<text x="1440.3" y="274.4" fill="#000" color="#000" textLength="32.5" lengthAdjust="spacingAndGlyphs">1.27125</text>
<text x="1440.3" y="307.4" fill="#000" color="#000" textLength="32.5" lengthAdjust="spacingAndGlyphs">1.26600</text>
<text x="1440.3" y="340.4" fill="#000" color="#000" textLength="32.5" lengthAdjust="spacingAndGlyphs">1.26075</text>
<text x="1440.3" y="406.4" fill="#000" color="#000" textLength="32.5" lengthAdjust="spacingAndGlyphs">1.25040</text>
<text x="1440.3" y="439.4" fill="#000" color="#000" textLength="32.5" lengthAdjust="spacingAndGlyphs">1.24515</text>
<text x="1440.3" y="472.4" fill="#000" color="#000" textLength="32.5" lengthAdjust="spacingAndGlyphs">1.23990</text>
<text x="1440.3" y="505.4" fill="#000" color="#000" textLength="32.5" lengthAdjust="spacingAndGlyphs">1.23465</text>
<text x="1440.3" y="538.4" fill="#000" color="#000" textLength="32.5" lengthAdjust="spacingAndGlyphs">1.22940</text>
<text x="1440.3" y="571.4" fill="#000" color="#000" textLength="32.5" lengthAdjust="spacingAndGlyphs">1.22415</text>
<text x="1440.3" y="604.4" fill="#000" color="#000" textLength="32.5" lengthAdjust="spacingAndGlyphs">1.21890</text>
<text x="1440.3" y="637.4" fill="#000" color="#000" textLength="32.5" lengthAdjust="spacingAndGlyphs">1.21365</text>
<rect x="1436" y="314" width="41" height="11" fill="#ff0000" shape-rendering="crispEdges"/>
<text x="1440.3" y="323.4" fill="#fff" color="#fff" textLength="32.5" lengthAdjust="spacingAndGlyphs">1.26337</text>
<rect x="1436" y="364" width="41" height="11" fill="#000" shape-rendering="crispEdges"/>
<text x="1440.3" y="373.4" fill="#fff" color="#fff" textLength="32.5" lengthAdjust="spacingAndGlyphs">1.25565</text>
<rect x="1436" y="454" width="41" height="11" fill="#ff0000" shape-rendering="crispEdges"/>
<text x="1440.3" y="463.4" fill="#fff" color="#fff" textLength="32.5" lengthAdjust="spacingAndGlyphs">1.24113</text>
<rect x="1436" y="617" width="41" height="11" fill="#ff0000" shape-rendering="crispEdges"/>
<text x="1440.3" y="626.4" fill="#fff" color="#fff" textLength="32.5" lengthAdjust="spacingAndGlyphs">1.21526</text>
<g clip-path="url(#rsiw)">
<line x1="4" y1="662.5" x2="1434" y2="662.5" stroke="#c0c0c0" stroke-width="1" stroke-dasharray="3 3" shape-rendering="crispEdges"/>
<line x1="4" y1="697.5" x2="1434" y2="697.5" stroke="#c0c0c0" stroke-width="1" stroke-dasharray="3 3" shape-rendering="crispEdges"/>
<line x1="4" y1="731.5" x2="1434" y2="731.5" stroke="#c0c0c0" stroke-width="1" stroke-dasharray="3 3" shape-rendering="crispEdges"/>
<polyline points="2,693 3.0,692.6 11.0,688.5 19.0,694.3 27.0,693.2 35.0,691.2 43.0,694.6 51.0,699.3 59.0,701.1 67.0,702.4 75.0,701.1 83.0,726.4 91.0,727.3 99.0,731.4 107.0,730.4 115.0,732.4 123.0,733.5 131.0,737.2 139.0,738.5 147.0,738.5 155.0,734.0 163.0,731.8 171.0,727.3 179.0,731.4 187.0,734.5 195.0,738.0 203.0,740.3 211.0,737.6 219.0,736.2 227.0,739.2 235.0,738.5 243.0,730.4 251.0,732.2 259.0,733.5 267.0,734.5 275.0,727.7 283.0,735.1 291.0,727.3 299.0,728.4 307.0,720.0 315.0,718.2 323.0,707.8 331.0,707.4 339.0,702.7 347.0,702.4 355.0,703.4 363.0,706.5 371.0,702.4 379.0,707.6 387.0,712.2 395.0,713.2 403.0,707.4 411.0,708.4 419.0,703.4 427.0,699.3 435.0,708.8 443.0,708.4 451.0,708.4 459.0,710.5 467.0,703.4 475.0,700.7 483.0,706.1 491.0,686.2 499.0,689.2 507.0,698.0 515.0,698.2 523.0,714.2 531.0,718.2 539.0,715.5 547.0,714.6 555.0,713.2 563.0,716.2 571.0,717.3 579.0,711.5 587.0,713.5 595.0,716.2 603.0,718.2 611.0,719.6 619.0,700.7 627.0,705.1 635.0,707.4 643.0,707.4 651.0,701.4 659.0,705.1 667.0,707.4 675.0,708.4 683.0,708.4 691.0,707.4 699.0,703.4 707.0,697.6 715.0,708.4 723.0,708.4 731.0,713.2 739.0,713.2 747.0,717.3 755.0,719.6 763.0,710.1 771.0,713.8 779.0,713.2 787.0,711.5 795.0,708.4 803.0,710.1 811.0,711.5 819.0,704.1 827.0,699.3 835.0,698.0 843.0,702.0 851.0,703.4 859.0,699.3 867.0,695.3 875.0,688.5 883.0,687.2 891.0,685.4 899.0,670.5 907.0,669.2 915.0,671.4 923.0,670.3 931.0,671.0 939.0,674.3 947.0,693.9 955.0,688.5 963.0,692.9 971.0,700.0 979.0,697.6 987.0,693.5 995.0,693.2 1003.0,689.2 1011.0,681.8 1019.0,686.2 1027.0,687.2 1035.0,688.5 1043.0,684.5 1051.0,685.4 1059.0,687.2 1067.0,684.5 1075.0,680.8 1083.0,678.6 1091.0,675.4 1099.0,675.9 1107.0,676.4 1115.0,673.6 1123.0,681.4 1131.0,681.4" fill="none" stroke="#6c38b4" stroke-width="1" stroke-linejoin="round"/>
</g>
<text x="7.3" y="650.9" fill="#000" color="#000" textLength="67.6" lengthAdjust="spacingAndGlyphs">RSI(14) 63.5612</text>
<g shape-rendering="crispEdges">
<rect x="1435" y="640" width="3" height="1" fill="#000"/>
</g>
<text x="1438.6" y="649" fill="#000" color="#000" textLength="14.3" lengthAdjust="spacingAndGlyphs">100</text>
<text x="1437.3" y="666" fill="#000" color="#000" textLength="9.6" lengthAdjust="spacingAndGlyphs">80</text>
<text x="1437.3" y="701" fill="#000" color="#000" textLength="9.6" lengthAdjust="spacingAndGlyphs">50</text>
<text x="1437.3" y="735.2" fill="#000" color="#000" textLength="9.6" lengthAdjust="spacingAndGlyphs">20</text>
<text x="1438.3" y="752" fill="#000" color="#000" textLength="5" lengthAdjust="spacingAndGlyphs">0</text>
<g shape-rendering="crispEdges">
<rect x="3" y="756" width="1" height="3" fill="#000"/>
<rect x="67" y="756" width="1" height="3" fill="#000"/>
<rect x="131" y="756" width="1" height="3" fill="#000"/>
<rect x="195" y="756" width="1" height="3" fill="#000"/>
<rect x="259" y="756" width="1" height="3" fill="#000"/>
<rect x="323" y="756" width="1" height="3" fill="#000"/>
<rect x="387" y="756" width="1" height="3" fill="#000"/>
<rect x="451" y="756" width="1" height="3" fill="#000"/>
<rect x="515" y="756" width="1" height="3" fill="#000"/>
<rect x="579" y="756" width="1" height="3" fill="#000"/>
<rect x="643" y="756" width="1" height="3" fill="#000"/>
<rect x="707" y="756" width="1" height="3" fill="#000"/>
<rect x="771" y="756" width="1" height="3" fill="#000"/>
<rect x="835" y="756" width="1" height="3" fill="#000"/>
<rect x="899" y="756" width="1" height="3" fill="#000"/>
<rect x="963" y="756" width="1" height="3" fill="#000"/>
<rect x="1027" y="756" width="1" height="3" fill="#000"/>
<rect x="1091" y="756" width="1" height="3" fill="#000"/>
</g>
<text x="2.0" y="768" fill="#000" color="#000" textLength="50.5" lengthAdjust="spacingAndGlyphs">20 Apr 2022</text>
<text x="66.0" y="768" fill="#000" color="#000" textLength="53.8" lengthAdjust="spacingAndGlyphs">22 Apr 00:00</text>
<text x="130.0" y="768" fill="#000" color="#000" textLength="53.8" lengthAdjust="spacingAndGlyphs">25 Apr 08:00</text>
<text x="194.0" y="768" fill="#000" color="#000" textLength="53.8" lengthAdjust="spacingAndGlyphs">26 Apr 16:00</text>
<text x="258.0" y="768" fill="#000" color="#000" textLength="53.8" lengthAdjust="spacingAndGlyphs">28 Apr 00:00</text>
<text x="322.0" y="768" fill="#000" color="#000" textLength="53.8" lengthAdjust="spacingAndGlyphs">29 Apr 08:00</text>
<text x="386.0" y="768" fill="#000" color="#000" textLength="52.89999999999999" lengthAdjust="spacingAndGlyphs">2 May 16:00</text>
<text x="450.0" y="768" fill="#000" color="#000" textLength="52.89999999999999" lengthAdjust="spacingAndGlyphs">4 May 00:00</text>
<text x="514.0" y="768" fill="#000" color="#000" textLength="52.89999999999999" lengthAdjust="spacingAndGlyphs">5 May 08:00</text>
<text x="578.0" y="768" fill="#000" color="#000" textLength="52.89999999999999" lengthAdjust="spacingAndGlyphs">6 May 16:00</text>
<text x="642.0" y="768" fill="#000" color="#000" textLength="57.599999999999994" lengthAdjust="spacingAndGlyphs">10 May 00:00</text>
<text x="706.0" y="768" fill="#000" color="#000" textLength="57.599999999999994" lengthAdjust="spacingAndGlyphs">11 May 08:00</text>
<text x="770.0" y="768" fill="#000" color="#000" textLength="57.599999999999994" lengthAdjust="spacingAndGlyphs">12 May 16:00</text>
<text x="834.0" y="768" fill="#000" color="#000" textLength="57.599999999999994" lengthAdjust="spacingAndGlyphs">16 May 00:00</text>
<text x="898.0" y="768" fill="#000" color="#000" textLength="57.599999999999994" lengthAdjust="spacingAndGlyphs">17 May 08:00</text>
<text x="962.0" y="768" fill="#000" color="#000" textLength="57.599999999999994" lengthAdjust="spacingAndGlyphs">18 May 16:00</text>
<text x="1026.0" y="768" fill="#000" color="#000" textLength="57.599999999999994" lengthAdjust="spacingAndGlyphs">20 May 00:00</text>
<text x="1090.0" y="768" fill="#000" color="#000" textLength="57.599999999999994" lengthAdjust="spacingAndGlyphs">23 May 08:00</text>
</svg></body></html>
